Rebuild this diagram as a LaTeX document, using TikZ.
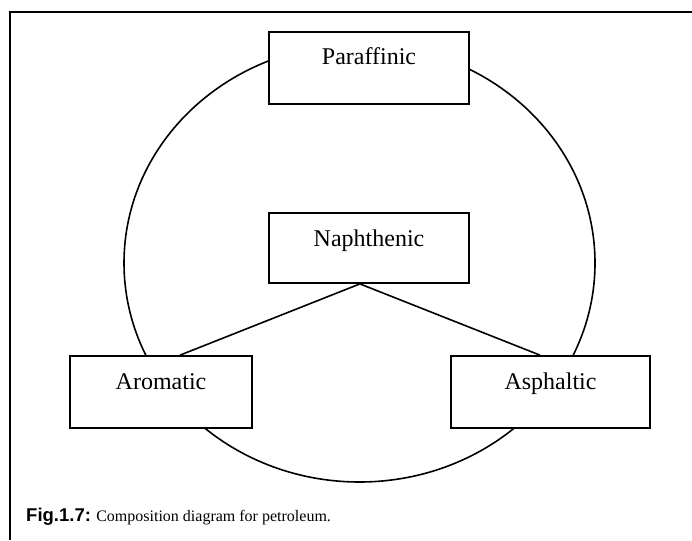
\documentclass[tikz,border=0pt]{standalone}
\usepackage{fontspec}
\setmainfont{Liberation Serif}
\setsansfont{Liberation Sans}
\usetikzlibrary{
	calc,
	positioning,
}
\tikzset{oil box/.style={
	draw,
	fill=white,
	rectangle,
	inner sep=0pt,
	line width=1.8pt,
	minimum height=72pt,
	text height=33pt,
	text depth=39pt,
	font=\fontsize{24}{28}\selectfont,
}}
\tikzset{link/.style={
	line width=1.6pt,
}}
\tikzset{frame/.style={
	line width=2.4pt,
}}

\begin{document}
\begin{tikzpicture}[x=1pt,y=-1pt]
\useasboundingbox (0,0) rectangle (692,540);

% frame
\draw[frame] (10,540) -- (10,12) -- (692,12);

% ring
\draw[line width=1.6pt] (359.5,263) ellipse [x radius=235.5, y radius=219];

\node[oil box, minimum width=200pt](par) at (369,68) {Paraffinic};
\node[oil box, minimum width=200pt, minimum height=70pt, text depth=37pt](nap) at (369,248) {Naphthenic};
\node[oil box, minimum width=182pt](aro) at (161,392) {Aromatic};
\node[oil box, minimum width=199pt](asp) at (550.5,392) {Asphaltic};

% Naphthenic -> Aromatic, Asphaltic
\coordinate (tip) at ($(nap.south west)!0.455!(nap.south east)$);
\draw[link] (tip) -- ($(aro.north west)!0.604!(aro.north east)$);
\draw[link] (tip) -- ($(asp.north west)!0.447!(asp.north east)$);

\node[anchor=base west, inner sep=0pt, font=\fontsize{16}{19}\selectfont](caption) at (26,521)
{{\fontsize{18.5}{22}\sffamily\bfseries Fig.1.7:} Composition diagram for petroleum.};

\end{tikzpicture}
\end{document}
